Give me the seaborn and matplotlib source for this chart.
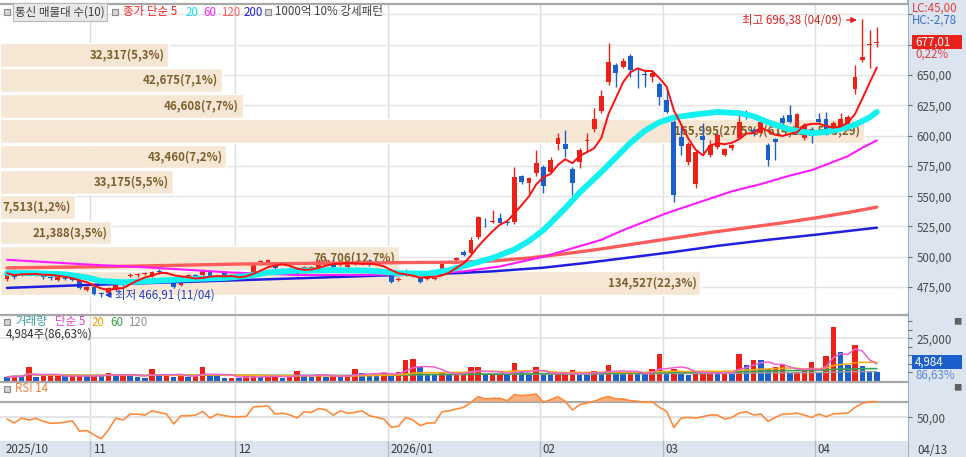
# -*- coding: utf-8 -*-
"""
통신 일봉 차트 (매물대 / 이동평균 / 거래량 / RSI) 재현
"""

import numpy as np
import pandas as pd
import matplotlib
matplotlib.use("Agg")
import matplotlib.pyplot as plt
from matplotlib.patches import Rectangle
import seaborn as sns

# ---- 일봉 데이터 (2025/10 ~ 2026/04/13, 121 거래일) ----
opens = [481.5, 485.0, 485.0, 486.6, 484.6, 485.8, 483.0, 480.9, 484.2, 483.6,
         480.9, 472.6, 475.3, 470.2, 470.0, 472.6, 479.5, 484.6, 484.8, 486.0,
         484.2, 488.0, 486.8, 482.2, 476.8, 483.9, 485.0, 485.0, 487.8, 482.2,
         486.4, 483.8, 482.8, 483.9, 485.8, 495.8, 494.8, 495.2, 490.2, 489.5,
         490.8, 487.8, 489.1, 491.9, 497.1, 496.0, 493.0, 491.9, 494.3, 494.4,
         496.8, 486.9, 485.8, 486.9, 481.2, 485.0, 484.0, 483.6, 482.0, 482.0,
         489.1, 495.8, 497.4, 504.2, 503.1, 516.4, 529.0, 528.8, 531.8, 528.6,
         528.7, 566.7, 560.9, 569.2, 574.1, 570.0, 593.1, 593.1, 572.5, 578.2,
         595.3, 605.4, 620.3, 644.2, 658.3, 656.6, 665.7, 650.4, 650.4, 648.3,
         642.6, 629.4, 611.2, 598.9, 578.2, 560.1, 599.7, 584.0, 590.6, 584.0,
         589.8, 598.0, 618.7, 604.6, 602.1, 592.3, 597.2, 614.5, 617.0, 603.0,
         598.0, 601.0, 613.7, 613.7, 607.1, 607.1, 606.3, 638.5, 662.4, 675.0,
         676.5]
highs = [488.0, 486.0, 489.0, 488.0, 487.0, 486.5, 484.0, 484.5, 485.0, 484.5,
         481.5, 476.0, 476.0, 471.0, 475.0, 481.0, 480.5, 486.5, 486.5, 487.5,
         488.5, 490.0, 487.5, 483.0, 483.0, 485.5, 486.0, 489.5, 488.5, 485.0,
         487.0, 485.0, 484.5, 485.5, 496.0, 497.5, 498.5, 496.0, 491.0, 491.5,
         491.5, 492.5, 492.5, 498.0, 498.5, 497.0, 495.0, 496.0, 495.5, 495.5,
         498.0, 490.5, 488.5, 488.0, 483.0, 489.5, 485.5, 484.5, 483.5, 483.5,
         495.5, 497.5, 499.5, 505.5, 516.0, 534.0, 532.0, 538.6, 536.4, 530.0,
         574.1, 567.5, 566.0, 588.1, 576.0, 582.6, 601.9, 604.6, 574.0, 589.5,
         602.0, 622.5, 637.6, 676.4, 660.0, 663.8, 667.3, 655.5, 654.0, 654.0,
         644.0, 639.0, 613.0, 608.8, 595.0, 588.0, 610.4, 596.0, 602.0, 590.0,
         593.0, 619.7, 621.0, 606.0, 613.0, 594.0, 598.0, 617.0, 625.3, 619.0,
         610.0, 607.0, 618.7, 619.5, 612.0, 618.7, 617.0, 658.3, 696.38, 687.1,
         689.6]
lows = [480.0, 482.0, 484.0, 485.0, 484.0, 482.0, 481.0, 480.0, 481.0, 480.0,
        473.0, 471.5, 468.5, 466.91, 469.0, 472.0, 476.0, 483.0, 483.5, 485.0,
        483.5, 486.0, 485.5, 474.5, 476.0, 483.0, 481.5, 484.0, 480.0, 481.5,
        483.0, 482.0, 482.0, 483.0, 485.0, 494.5, 494.0, 490.0, 489.0, 488.0,
        484.0, 487.0, 488.5, 491.0, 496.0, 491.0, 492.0, 491.0, 493.0, 493.0,
        492.5, 486.0, 485.0, 478.0, 480.0, 484.5, 483.0, 478.5, 481.0, 481.0,
        488.5, 494.5, 496.5, 500.5, 502.0, 515.0, 524.8, 527.9, 527.5, 526.0,
        527.0, 560.0, 552.4, 567.0, 552.9, 569.0, 588.1, 582.4, 551.0, 573.0,
        586.5, 603.0, 619.0, 642.0, 640.1, 655.5, 648.6, 639.0, 640.4, 644.5,
        625.3, 618.4, 545.2, 584.0, 576.0, 556.8, 584.0, 582.0, 589.0, 583.0,
        588.5, 597.0, 614.0, 600.0, 601.0, 575.0, 579.9, 609.0, 610.0, 601.0,
        596.0, 594.0, 610.5, 600.5, 606.0, 606.0, 605.0, 634.3, 660.7, 655.8,
        673.1]
closes = [486.4, 483.2, 486.9, 486.2, 486.4, 483.0, 482.6, 483.6, 481.5, 480.9,
          474.0, 475.3, 469.3, 469.7, 474.5, 480.3, 476.8, 485.2, 485.3, 486.7,
          487.8, 487.6, 486.2, 475.3, 482.2, 484.4, 482.2, 488.6, 480.9, 484.2,
          483.6, 483.4, 483.4, 484.5, 495.2, 496.3, 497.4, 490.5, 489.6, 489.0,
          485.0, 491.9, 491.9, 496.8, 497.6, 491.9, 493.6, 495.2, 494.8, 494.8,
          493.3, 489.8, 487.8, 479.5, 481.7, 488.6, 484.4, 479.5, 482.4, 482.4,
          494.1, 496.2, 498.8, 501.5, 513.9, 532.8, 528.4, 529.3, 528.2, 528.2,
          565.8, 561.7, 565.0, 577.4, 558.4, 579.9, 598.0, 588.9, 560.9, 588.1,
          595.9, 613.7, 632.7, 660.7, 651.7, 661.6, 654.1, 649.6, 649.7, 651.7,
          631.9, 619.5, 551.3, 591.4, 593.1, 586.5, 596.4, 592.0, 600.5, 589.0,
          592.3, 611.2, 615.4, 602.1, 611.2, 579.9, 594.7, 610.4, 611.2, 617.8,
          608.8, 600.0, 611.2, 602.1, 610.4, 613.7, 615.4, 648.3, 664.9, 675.5,
          677.01]
volumes = [2400, 2950, 2800, 7900, 2600, 2900, 3000, 3100, 2700, 2900,
           3000, 2800, 3300, 3200, 4900, 3300, 3400, 3300, 2400, 2000,
           7300, 3300, 3400, 2400, 3300, 2400, 2900, 8300, 2900, 2800,
           1800, 2000, 1800, 2900, 3000, 2400, 2900, 3000, 1800, 2400,
           5700, 2900, 2400, 4300, 2400, 2900, 2400, 2450, 6900, 4900,
           3700, 3600, 4900, 3700, 5300, 12200, 12800, 8300, 3700, 3600,
           4900, 4300, 4400, 4500, 7900, 7950, 3350, 3740, 3800, 3700,
           10240, 5300, 3700, 7900, 3350, 3300, 4300, 4400, 6300, 3700,
           3650, 5900, 4300, 9650, 4900, 4800, 4850, 3900, 3850, 6900,
           15560, 5700, 6900, 5700, 3350, 4900, 4950, 5000, 4300, 5300,
           4300, 15560, 9260, 12210, 12000, 6900, 8270, 9260, 4900, 5300,
           6300, 10830, 5300, 14775, 31320, 17140, 9260, 21080, 8865, 5753,
           4984]
rsi14 = [47.9, 42.9, 49.2, 46.7, 48.8, 45.0, 42.5, 42.9, 43.8, 45.8,
         32.5, 33.3, 27.9, 22.9, 34.2, 49.2, 46.7, 54.2, 54.2, 52.9,
         58.3, 56.3, 54.2, 41.7, 52.1, 52.1, 52.9, 57.5, 49.2, 54.2,
         52.1, 50.8, 50.8, 51.3, 63.3, 63.8, 64.6, 54.2, 55.4, 53.3,
         49.2, 57.1, 56.3, 61.3, 59.6, 52.9, 58.3, 55.4, 56.3, 58.3,
         52.1, 50.0, 47.9, 37.5, 38.8, 50.0, 46.7, 39.6, 42.9, 42.9,
         57.1, 58.4, 60.6, 62.8, 69.1, 76.4, 73.4, 74.3, 74.3, 71.3,
         78.9, 77.7, 78.5, 79.8, 69.1, 72.6, 76.4, 70.4, 59.4, 66.2,
         68.3, 70.4, 74.3, 76.4, 73.4, 73.4, 71.3, 70.4, 69.1, 70.0,
         62.8, 57.7, 37.2, 49.1, 50.0, 49.1, 50.9, 53.0, 53.0, 47.9,
         50.0, 55.5, 57.2, 53.0, 54.3, 44.9, 50.0, 54.3, 54.3, 55.5,
         53.0, 50.0, 54.3, 50.9, 54.3, 55.1, 55.5, 62.8, 67.9, 70.0,
         70.0]

# 이동평균선 (차트에서 읽은 값: 봉 인덱스 -> 가격)
ma20_idx = [0, 4, 8, 11, 13, 16, 20, 25, 30, 33, 36, 40, 45, 50, 54, 58, 61, 64,
            67, 70, 72, 74, 77, 79, 82, 84, 86, 88, 90, 92, 95, 98, 101, 103, 105,
            108, 111, 113, 115, 117, 119, 120]
ma20_val = [486.6, 486.5, 485.5, 483.0, 480.0, 479.0, 480.0, 481.5, 482.5, 484.0,
            487.0, 488.5, 489.0, 488.5, 486.5, 486.0, 489.0, 494.0, 499.0, 506.0,
            513.0, 522.0, 540.0, 553.0, 570.0, 582.0, 594.0, 604.0, 611.0, 615.0,
            617.5, 619.5, 618.5, 616.0, 611.0, 605.0, 602.0, 603.0, 605.5, 609.0,
            615.0, 619.5]
ma60_idx = [0, 10, 20, 31, 40, 50, 58, 63, 68, 74, 78, 82, 85, 88, 91, 94, 97,
            100, 104, 108, 111, 113, 116, 118, 120]
ma60_val = [497.5, 494.0, 491.0, 487.0, 485.0, 485.0, 486.0, 488.0, 492.0, 500.0,
            507.0, 514.0, 522.0, 529.0, 536.0, 542.0, 548.0, 554.0, 560.0, 567.0,
            571.5, 576.0, 583.0, 590.0, 596.0]
ma120_idx = [0, 15, 32, 50, 62, 67, 72, 77, 82, 87, 92, 97, 102, 107, 112, 116, 120]
ma120_val = [490.8, 492.0, 494.0, 495.0, 495.5, 496.5, 499.0, 502.5, 506.5, 511.0,
             515.5, 520.0, 524.0, 528.0, 532.5, 536.5, 541.0]
ma200_idx = [0, 10, 18, 31, 40, 54, 62, 67, 74, 80, 86, 92, 98, 105, 112, 120]
ma200_val = [474.3, 476.5, 478.0, 480.5, 482.2, 485.0, 486.5, 488.0, 491.0, 495.0,
             499.5, 504.0, 509.0, 514.0, 518.5, 524.0]

# 월 구분
month_labels = ["2025/10", "11", "12", "2026/01", "02", "03", "04"]
month_start = [0, 12, 32, 53, 74, 91, 112]

# 매물대 (10구간)
vp_edges = [467.71, 488.64, 509.57, 530.50, 551.43, 572.36, 593.29, 614.22,
            635.15, 656.08, 677.01]
vp_vol = [134527, 76706, 21388, 7513, 33175, 43460, 165995, 46608, 42675, 32317]

RED = "#ee2119"
BLUE = "#1b5fcc"
W, H = 966, 457


def px_rect(x0, y0, x1, y1):
    return [x0 / W, 1 - y1 / H, (x1 - x0) / W, (y1 - y0) / H]


def comma_dec(v, nd=2):
    return f"{v:.{nd}f}".replace(".", ",")


sns.set_theme(style="white")
plt.rcParams["font.family"] = ["Noto Sans CJK KR", "DejaVu Sans"]
plt.rcParams["axes.unicode_minus"] = False

df = pd.DataFrame({"o": opens, "h": highs, "l": lows, "c": closes,
                   "v": volumes, "rsi": rsi14})
idx = np.arange(len(df))
x_lo, x_hi = -0.97, 124.3
bounds = [m - 0.5 for m in month_start[1:]]

fig = plt.figure(figsize=(W / 100, H / 100), dpi=100)
fig.patch.set_facecolor("white")

# 오른쪽 축 영역 / 아래 날짜 영역
ax_side = fig.add_axes(px_rect(908, 0, 966, 457))
ax_side.set_facecolor("#dbe4ef")
ax_side.set_xticks([])
ax_side.set_yticks([])
for s in ax_side.spines.values():
    s.set_visible(False)
ax_side.spines["left"].set_visible(True)
ax_side.spines["left"].set_color("#9aa4b0")

ax_x = fig.add_axes(px_rect(0, 441, 908, 457))
ax_x.set_facecolor("#dbe4ef")
ax_x.set_xlim(x_lo, x_hi)
ax_x.set_ylim(0, 1)
ax_x.set_xticks([])
ax_x.set_yticks([])
for s in ax_x.spines.values():
    s.set_visible(False)
for b in bounds:
    ax_x.axvline(b, color="#b4bcc8", lw=1)
for lab, m in zip(month_labels, month_start):
    ax_x.text(m - 0.5 + 0.35, 0.45, lab, ha="left", va="center",
              fontsize=8.3, color="#3a3a3a")

ax_p = fig.add_axes(px_rect(0, 4, 908, 313))
ax_v = fig.add_axes(px_rect(0, 315, 908, 381))
ax_r = fig.add_axes(px_rect(0, 382, 908, 441))

for ax in (ax_p, ax_v, ax_r):
    ax.set_facecolor("white")
    ax.set_xlim(x_lo, x_hi)
    ax.set_xticks([])
    for s in ax.spines.values():
        s.set_visible(False)
    ax.spines["top"].set_visible(True)
    ax.spines["top"].set_color("#a8a8a8")
    ax.spines["top"].set_linewidth(1.6)
    for b in bounds:
        ax.axvline(b, color="#dcdcdc", lw=1, zorder=0.2)
    ax.yaxis.tick_right()
    ax.tick_params(axis="y", which="both", direction="out", length=3, width=0.8,
                   color="#707070", labelsize=8.3, labelcolor="#4a4a4a", pad=3)

# ---- 가격 패널 ----
ax_p.set_ylim(453.6, 708.6)
pticks = list(range(475, 701, 25))
ax_p.set_yticks(pticks)
ax_p.set_yticklabels([comma_dec(t) if t <= 650 else "" for t in pticks])
for t in pticks:
    ax_p.axhline(t, color="#e4e4e4", lw=1, zorder=0.2)

# 매물대 막대
vp_total = sum(vp_vol)
vp_scale = 119.2 / max(vp_vol)
for k, v in enumerate(vp_vol):
    lo, hi = vp_edges[k], vp_edges[k + 1]
    length = max(v * vp_scale, 10.3)
    ax_p.barh((lo + hi) / 2, length, height=(hi - lo) - 1.4, left=x_lo,
              color="#f6e7d5", zorder=1)
    label = f"{v:,}({comma_dec(v / vp_total * 100, 1)}%)"
    if v == max(vp_vol):
        label += f"({comma_dec(hi)} ~ {comma_dec(lo)})"
    ax_p.text(x_lo + length - 0.5, (lo + hi) / 2, label, ha="right", va="center",
              fontsize=8.3, color="#7d5f2c", fontweight="bold", zorder=2)

# 캔들
up = df["c"] >= df["o"]
ccol = np.where(up, RED, BLUE)
ax_p.vlines(idx, df["l"], df["h"], colors=ccol, lw=1, zorder=3)
diff = (df["c"] - df["o"]).abs()
body = diff.clip(lower=0.8)
bottom = df[["o", "c"]].min(axis=1) - (body - diff) / 2
ax_p.bar(idx, body, bottom=bottom, width=0.66, color=ccol, linewidth=0, zorder=3.1)

# 이동평균선
ma5 = df["c"].rolling(5, min_periods=1).mean()
line_kw = dict(sort=False, estimator=None)
sns.lineplot(x=ma200_idx, y=ma200_val, ax=ax_p, color="#1f1fe0", linewidth=1.8,
             zorder=4, **line_kw)
sns.lineplot(x=ma120_idx, y=ma120_val, ax=ax_p, color="#ff5c5c", linewidth=2.4,
             zorder=4, **line_kw)
sns.lineplot(x=ma60_idx, y=ma60_val, ax=ax_p, color="#ff1aff", linewidth=1.5,
             zorder=4, **line_kw)
sns.lineplot(x=ma20_idx, y=ma20_val, ax=ax_p, color="#12f0f0", linewidth=4.2,
             zorder=4.1, **line_kw)
sns.lineplot(x=idx, y=ma5, ax=ax_p, color="#ff1010", linewidth=1.4,
             zorder=4.2, **line_kw)

# 최고 / 최저
i_hi = int(np.argmax(highs))
i_lo = int(np.argmin(lows))
ax_p.annotate(f"최고 {comma_dec(highs[i_hi])} (04/09)", xy=(i_hi - 0.75, highs[i_hi] - 1.0),
              xytext=(i_hi - 2.8, highs[i_hi] - 1.0), ha="right", va="center",
              fontsize=8.3, color="#e02020", zorder=6,
              arrowprops=dict(arrowstyle="-|>", color="#e02020", lw=1,
                              mutation_scale=8, shrinkA=1, shrinkB=0))
ax_p.annotate(f"최저 {comma_dec(lows[i_lo])} (11/04)", xy=(i_lo + 0.5, lows[i_lo] + 1.6),
              xytext=(i_lo + 1.9, lows[i_lo] + 1.6), ha="left", va="center",
              fontsize=8.3, color="#1f3fd0", zorder=6,
              arrowprops=dict(arrowstyle="-|>", color="#1f3fd0", lw=1,
                              mutation_scale=8, shrinkA=1, shrinkB=0))

# ---- 거래량 패널 ----
ax_v.set_ylim(0, 38600)
vol = df["v"]
vcol = np.where(vol.diff().fillna(-1) > 0, RED, BLUE)
ax_v.bar(idx, vol, width=0.76, color=vcol, linewidth=0, zorder=2)
for win, c, lw in [(120, "#a0a0a0", 1.0), (60, "#3aa050", 1.2),
                   (20, "#ffaa10", 1.1), (5, "#f060d0", 1.1)]:
    sns.lineplot(x=idx, y=vol.rolling(win, min_periods=1).mean(), ax=ax_v,
                 color=c, linewidth=lw, zorder=3, **line_kw)
vticks = [5000, 10000, 15000, 20000, 25000, 30000, 35000]
ax_v.set_yticks(vticks)
ax_v.set_yticklabels(["25,000" if t == 25000 else "" for t in vticks])
ax_v.axhline(25000, color="#e4e4e4", lw=1.2, zorder=0.2)

# ---- RSI 패널 ----
ax_r.set_ylim(20, 95)
rsi = df["rsi"].to_numpy()
ax_r.axhline(50, color="#e4e4e4", lw=1.4, zorder=0.5)
ax_r.axhline(70, color="#ababab", lw=1.6, zorder=0.5)
ax_r.fill_between(idx, 70, rsi, where=rsi > 70, interpolate=True,
                  color="#f5a46c", alpha=0.85, linewidth=0, zorder=1)
sns.lineplot(x=idx, y=rsi, ax=ax_r, color="#ff8a3c", linewidth=1.2, zorder=2, **line_kw)
ax_r.set_yticks([50])
ax_r.set_yticklabels(["50,00"])

for ax in (ax_p, ax_v, ax_r):
    ax.set_xlabel("")
    ax.set_ylabel("")


# ---- 범례 / 라벨 텍스트 ----
def ftext(x, y, s, **kw):
    kw.setdefault("fontsize", 8.3)
    return fig.text(x / W, 1 - y / H, s, va="center", ha="left", **kw)


def fbox(x, y):
    fig.add_artist(Rectangle((x / W, 1 - (y + 3) / H), 6 / W, 6 / H,
                             transform=fig.transFigure, facecolor="#d4d4d4",
                             edgecolor="#8a8a8a", lw=0.8, zorder=6))


def fpanel(x0, y0, x1, y1, color):
    fig.add_artist(Rectangle((x0 / W, 1 - y1 / H), (x1 - x0) / W, (y1 - y0) / H,
                             transform=fig.transFigure, facecolor=color,
                             edgecolor="none", zorder=5))


fbox(4, 12)
ftext(15, 12, "통신 매물대 수(10)", color="#404040",
      bbox=dict(boxstyle="square,pad=0.2", fc="#e8e8e8", ec="#b8b8b8", lw=0.8))
fbox(112, 12)
ftext(123, 12, "종가 단순 5", color="#ff2020")
ftext(186, 12, "20", color="#10e0f0")
ftext(203, 12, "60", color="#ff20ff")
ftext(221, 12, "120", color="#ff5c5c")
ftext(244, 12, "200", color="#2020e0")
fbox(265, 12)
ftext(275, 12, "1000억 10% 강세패턴", color="#404040")

fbox(4, 322)
ftext(15, 322, "거래량", color="#3a9ca8")
ftext(55, 322, "단순 5", color="#e040c0")
ftext(92, 322, "20", color="#f0a000")
ftext(110, 322, "60", color="#30a040")
ftext(128, 322, "120", color="#909090")
ftext(6, 334, f"{volumes[-1]:,}주({comma_dec(volumes[-1] / volumes[-2] * 100)}%)",
      color="#303030")

fbox(4, 389)
ftext(15, 389, "RSI 14", color="#f08040")

# 오른쪽 정보
ftext(912, 8, "LC:45,00", color="#e04040")
ftext(912, 20, "HC:-2,78", color="#3f6fd0")
fpanel(912, 35, 962, 49, "#e8231b")
ftext(915, 42, comma_dec(closes[-1]), color="white", zorder=6)
ftext(915, 54, f"{comma_dec((closes[-1] / closes[-2] - 1) * 100)}%", color="#e04040")
fpanel(912, 355, 962, 369, "#1b5fcc")
ftext(915, 362, f"{volumes[-1]:,}", color="white", zorder=6)
ftext(915, 375, f"{comma_dec(volumes[-1] / volumes[-2] * 100)}%", color="#5a8ad8")
ftext(953, 322, "■", color="#606060", fontsize=6)
ftext(953, 388, "■", color="#606060", fontsize=6)
ftext(917, 450, "04/13", color="#3a3a3a")

fig.savefig("out.png", dpi=100)
